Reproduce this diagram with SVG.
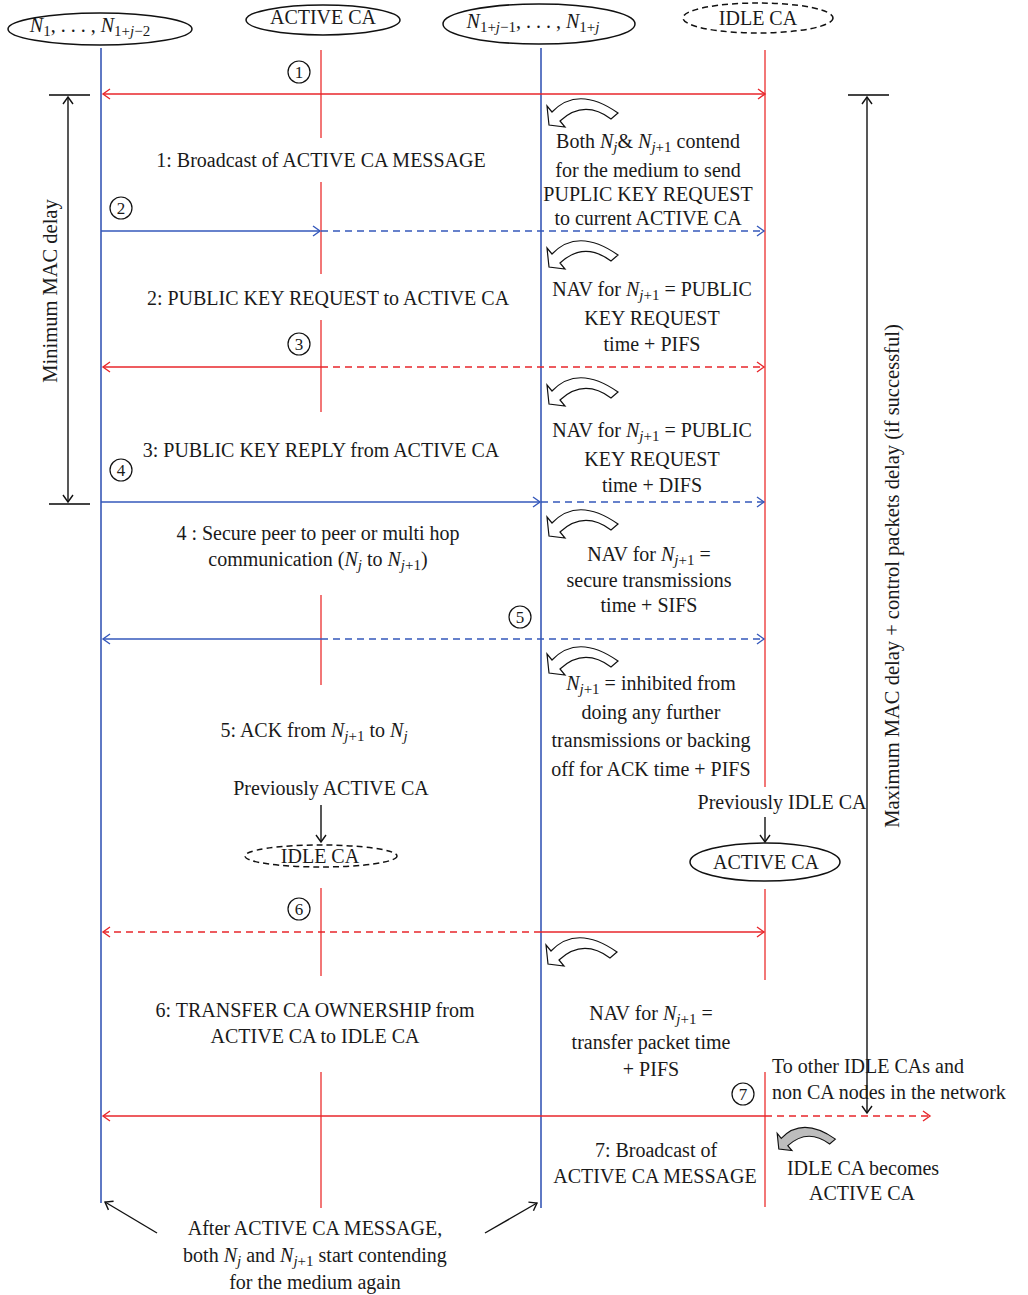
<svg xmlns="http://www.w3.org/2000/svg" width="1028" height="1295" viewBox="0 0 1028 1295">
<style>
text{font-family:"Liberation Serif","Times New Roman",serif;font-size:20px;fill:#1a1a1a}
.c{text-anchor:middle}
.i{font-style:italic}
.s{font-size:15px}
.node{fill:#fff;stroke:#111;stroke-width:1.5}
.dnode{fill:#fff;stroke:#111;stroke-width:1.5;stroke-dasharray:6 4}
.lr{stroke:#ee4a4a;stroke-width:1.5;fill:none}
.lb{stroke:#2a4db0;stroke-width:1.5;fill:none}
.mr{stroke:#e8262b;stroke-width:1.4;fill:none}
.mb{stroke:#3558bb;stroke-width:1.4;fill:none}
.d{stroke-dasharray:7 5}
.k{stroke:#111;stroke-width:1.4;fill:none}
.bar{stroke:#444;stroke-width:2.2}
.num{fill:none;stroke:#111;stroke-width:1.2}
.curl{fill:#fff;stroke:#111;stroke-width:1.2;stroke-linejoin:miter}
</style>
<defs>
<marker id="ar" viewBox="-9 -7 11 14" markerWidth="11" markerHeight="14" refX="0" refY="0" orient="auto-start-reverse" markerUnits="userSpaceOnUse"><path d="M-7,-5 L0,0 L-7,5" fill="none" stroke="#e8262b" stroke-width="1.4"/></marker>
<marker id="ab" viewBox="-9 -7 11 14" markerWidth="11" markerHeight="14" refX="0" refY="0" orient="auto-start-reverse" markerUnits="userSpaceOnUse"><path d="M-7,-5 L0,0 L-7,5" fill="none" stroke="#3558bb" stroke-width="1.4"/></marker>
<marker id="ak" viewBox="-9 -7 11 14" markerWidth="11" markerHeight="14" refX="0" refY="0" orient="auto-start-reverse" markerUnits="userSpaceOnUse"><path d="M-7,-5 L0,0 L-7,5" fill="none" stroke="#111" stroke-width="1.4"/></marker>
<path id="curl" d="M4,15 Q30,-12 70,16 L63,22 Q36,2 12,24 L17,30 L1,28 L-1,9 Z"/>
</defs>

<g id="lifelines">
<line class="lb" x1="101" y1="48" x2="101" y2="1203"/>
<line class="lb" x1="541" y1="48" x2="541" y2="1208"/>
<line class="lr" x1="321" y1="50" x2="321" y2="138"/>
<line class="lr" x1="321" y1="182" x2="321" y2="274"/>
<line class="lr" x1="321" y1="320" x2="321" y2="412"/>
<line class="lr" x1="321" y1="595" x2="321" y2="685"/>
<line class="lr" x1="321" y1="888" x2="321" y2="976"/>
<line class="lr" x1="321" y1="1072" x2="321" y2="1208"/>
<line class="lr" x1="765" y1="50" x2="765" y2="787"/>
<line class="lr" x1="765" y1="889" x2="765" y2="980"/>
<line class="lr" x1="765" y1="1072" x2="765" y2="1207"/>
</g>

<g id="node-n1">
<ellipse class="node" cx="100" cy="29" rx="92" ry="16"/>
<text class="c" x="90" y="32"><tspan class="i">N</tspan><tspan class="s" dy="4">1</tspan><tspan dy="-4">, . . . , </tspan><tspan class="i">N</tspan><tspan class="s" dy="4">1+<tspan class="i">j</tspan>−2</tspan></text>
</g>
<g id="node-active">
<ellipse class="node" cx="323" cy="20" rx="77" ry="15"/>
<text class="c" x="323" y="24">ACTIVE CA</text>
</g>
<g id="node-nj">
<ellipse class="node" cx="539" cy="24" rx="96" ry="20"/>
<text class="c" x="533" y="28"><tspan class="i">N</tspan><tspan class="s" dy="4">1+<tspan class="i">j</tspan>−1</tspan><tspan dy="-4">, . . . , </tspan><tspan class="i">N</tspan><tspan class="s" dy="4">1+<tspan class="i">j</tspan></tspan></text>
</g>
<g id="node-idle">
<ellipse class="dnode" cx="758" cy="18" rx="75" ry="15"/>
<text class="c" x="758" y="25">IDLE CA</text>
</g>
<g id="node-idle2">
<ellipse class="dnode" cx="321" cy="856" rx="76" ry="11"/>
<text class="c" x="320" y="863">IDLE CA</text>
</g>
<g id="node-active2">
<ellipse class="node" cx="765" cy="862" rx="75" ry="19"/>
<text class="c" x="766" y="869">ACTIVE CA</text>
</g>

<g id="connectors">
<line class="mr" x1="765" y1="94" x2="103" y2="94" marker-start="url(#ar)" marker-end="url(#ar)"/>
<line class="mb" x1="101" y1="231" x2="320" y2="231" marker-end="url(#ab)"/>
<line class="mb d" x1="321" y1="231" x2="764" y2="231" marker-end="url(#ab)"/>
<line class="mr" x1="321" y1="367" x2="103" y2="367" marker-end="url(#ar)"/>
<line class="mr d" x1="321" y1="367" x2="764" y2="367" marker-end="url(#ar)"/>
<line class="mb" x1="101" y1="502" x2="540" y2="502" marker-end="url(#ab)"/>
<line class="mb d" x1="541" y1="502" x2="764" y2="502" marker-end="url(#ab)"/>
<line class="mb" x1="321" y1="639" x2="103" y2="639" marker-end="url(#ab)"/>
<line class="mb d" x1="321" y1="639" x2="764" y2="639" marker-end="url(#ab)"/>
<line class="mr d" x1="541" y1="932" x2="103" y2="932" marker-end="url(#ar)"/>
<line class="mr" x1="541" y1="932" x2="764" y2="932" marker-end="url(#ar)"/>
<line class="mr" x1="765" y1="1116" x2="103" y2="1116" marker-end="url(#ar)"/>
<line class="mr d" x1="765" y1="1116" x2="930" y2="1116" marker-end="url(#ar)"/>
<line class="k" x1="321" y1="805" x2="321" y2="842" marker-end="url(#ak)"/>
<line class="k" x1="765" y1="817" x2="765" y2="842" marker-end="url(#ak)"/>
<line class="k" x1="157" y1="1233" x2="105" y2="1202" marker-end="url(#ak)"/>
<line class="k" x1="485" y1="1233" x2="537" y2="1203" marker-end="url(#ak)"/>
</g>

<g id="numbers">
<circle class="num" cx="299" cy="72" r="11"/><text class="c" x="299" y="78" style="font-size:17px">1</text>
<circle class="num" cx="121" cy="208" r="11"/><text class="c" x="121" y="214" style="font-size:17px">2</text>
<circle class="num" cx="299" cy="344" r="11"/><text class="c" x="299" y="350" style="font-size:17px">3</text>
<circle class="num" cx="121" cy="470" r="11"/><text class="c" x="121" y="476" style="font-size:17px">4</text>
<circle class="num" cx="520" cy="617" r="11"/><text class="c" x="520" y="623" style="font-size:17px">5</text>
<circle class="num" cx="299" cy="909" r="11"/><text class="c" x="299" y="915" style="font-size:17px">6</text>
<circle class="num" cx="743" cy="1094" r="11"/><text class="c" x="743" y="1100" style="font-size:17px">7</text>
</g>

<g id="curls">
<use href="#curl" class="curl" x="548" y="97"/>
<use href="#curl" class="curl" x="548" y="239"/>
<use href="#curl" class="curl" x="548" y="376"/>
<use href="#curl" class="curl" x="548" y="508"/>
<use href="#curl" class="curl" x="548" y="645"/>
<use href="#curl" class="curl" x="547" y="936"/>
<g transform="translate(778,1126) scale(0.82)"><use href="#curl" style="fill:#bdbdbd;stroke:#111;stroke-width:1.4"/></g>
</g>

<g id="brackets">
<line class="bar" x1="49" y1="95" x2="90" y2="95"/>
<line class="bar" x1="49" y1="504" x2="90" y2="504"/>
<line class="k" x1="68" y1="97" x2="68" y2="502" marker-start="url(#ak)" marker-end="url(#ak)"/>
<line class="bar" x1="848" y1="95" x2="889" y2="95"/>
<line class="k" x1="867" y1="97" x2="867" y2="1113" marker-start="url(#ak)" marker-end="url(#ak)"/>
<text class="c" transform="translate(57,291) rotate(-90)" style="font-size:20.5px">Minimum MAC delay</text>
<text class="c" transform="translate(899,576) rotate(-90)" style="font-size:20.5px">Maximum MAC delay + control packets delay (if successful)</text>
</g>

<g id="labels">
<text class="c" x="321" y="167">1: Broadcast of ACTIVE CA MESSAGE</text>
<text class="c" x="648" y="148">Both <tspan class="i">N</tspan><tspan class="s i" dy="4">j</tspan><tspan dy="-4">&amp; </tspan><tspan class="i">N</tspan><tspan class="s" dy="4"><tspan class="i">j</tspan>+1</tspan><tspan dy="-4"> contend</tspan></text>
<text class="c" x="648" y="177">for the medium to send</text>
<text class="c" x="648" y="201">PUPLIC KEY REQUEST</text>
<text class="c" x="648" y="225">to current ACTIVE CA</text>

<text class="c" x="328" y="305">2: PUBLIC KEY REQUEST to ACTIVE CA</text>
<text class="c" x="652" y="296">NAV for <tspan class="i">N</tspan><tspan class="s" dy="4"><tspan class="i">j</tspan>+1</tspan><tspan dy="-4"> = PUBLIC</tspan></text>
<text class="c" x="652" y="325">KEY REQUEST</text>
<text class="c" x="652" y="351">time + PIFS</text>

<text class="c" x="321" y="457">3: PUBLIC KEY REPLY from ACTIVE CA</text>
<text class="c" x="652" y="437">NAV for <tspan class="i">N</tspan><tspan class="s" dy="4"><tspan class="i">j</tspan>+1</tspan><tspan dy="-4"> = PUBLIC</tspan></text>
<text class="c" x="652" y="466">KEY REQUEST</text>
<text class="c" x="652" y="492">time + DIFS</text>

<text class="c" x="318" y="540">4 : Secure peer to peer or multi hop</text>
<text class="c" x="318" y="566">communication (<tspan class="i">N</tspan><tspan class="s i" dy="4">j</tspan><tspan dy="-4"> to </tspan><tspan class="i">N</tspan><tspan class="s" dy="4"><tspan class="i">j</tspan>+1</tspan><tspan dy="-4">)</tspan></text>
<text class="c" x="649" y="561">NAV for <tspan class="i">N</tspan><tspan class="s" dy="4"><tspan class="i">j</tspan>+1</tspan><tspan dy="-4"> =</tspan></text>
<text class="c" x="649" y="587">secure transmissions</text>
<text class="c" x="649" y="612">time + SIFS</text>

<text class="c" x="651" y="690"><tspan class="i">N</tspan><tspan class="s" dy="4"><tspan class="i">j</tspan>+1</tspan><tspan dy="-4"> = inhibited from</tspan></text>
<text class="c" x="651" y="719">doing any further</text>
<text class="c" x="651" y="747">transmissions or backing</text>
<text class="c" x="651" y="776">off for ACK time + PIFS</text>

<text class="c" x="314" y="737">5: ACK from <tspan class="i">N</tspan><tspan class="s" dy="4"><tspan class="i">j</tspan>+1</tspan><tspan dy="-4"> to </tspan><tspan class="i">N</tspan><tspan class="s i" dy="4">j</tspan></text>
<text class="c" x="331" y="795">Previously ACTIVE CA</text>
<text class="c" x="782" y="809">Previously IDLE CA</text>

<text class="c" x="315" y="1017">6: TRANSFER CA OWNERSHIP from</text>
<text class="c" x="315" y="1043">ACTIVE CA to IDLE CA</text>
<text class="c" x="651" y="1020">NAV for <tspan class="i">N</tspan><tspan class="s" dy="4"><tspan class="i">j</tspan>+1</tspan><tspan dy="-4"> =</tspan></text>
<text class="c" x="651" y="1049">transfer packet time</text>
<text class="c" x="651" y="1076">+ PIFS</text>

<text x="772" y="1073">To other IDLE CAs and</text>
<text x="772" y="1099">non CA nodes in the network</text>
<text class="c" x="656" y="1157">7: Broadcast of</text>
<text class="c" x="655" y="1183">ACTIVE CA MESSAGE</text>
<text class="c" x="863" y="1175">IDLE CA becomes</text>
<text class="c" x="862" y="1200">ACTIVE CA</text>

<text class="c" x="315" y="1235">After ACTIVE CA MESSAGE,</text>
<text class="c" x="315" y="1262">both <tspan class="i">N</tspan><tspan class="s i" dy="4">j</tspan><tspan dy="-4"> and </tspan><tspan class="i">N</tspan><tspan class="s" dy="4"><tspan class="i">j</tspan>+1</tspan><tspan dy="-4"> start contending</tspan></text>
<text class="c" x="315" y="1289">for the medium again</text>
</g>
</svg>
